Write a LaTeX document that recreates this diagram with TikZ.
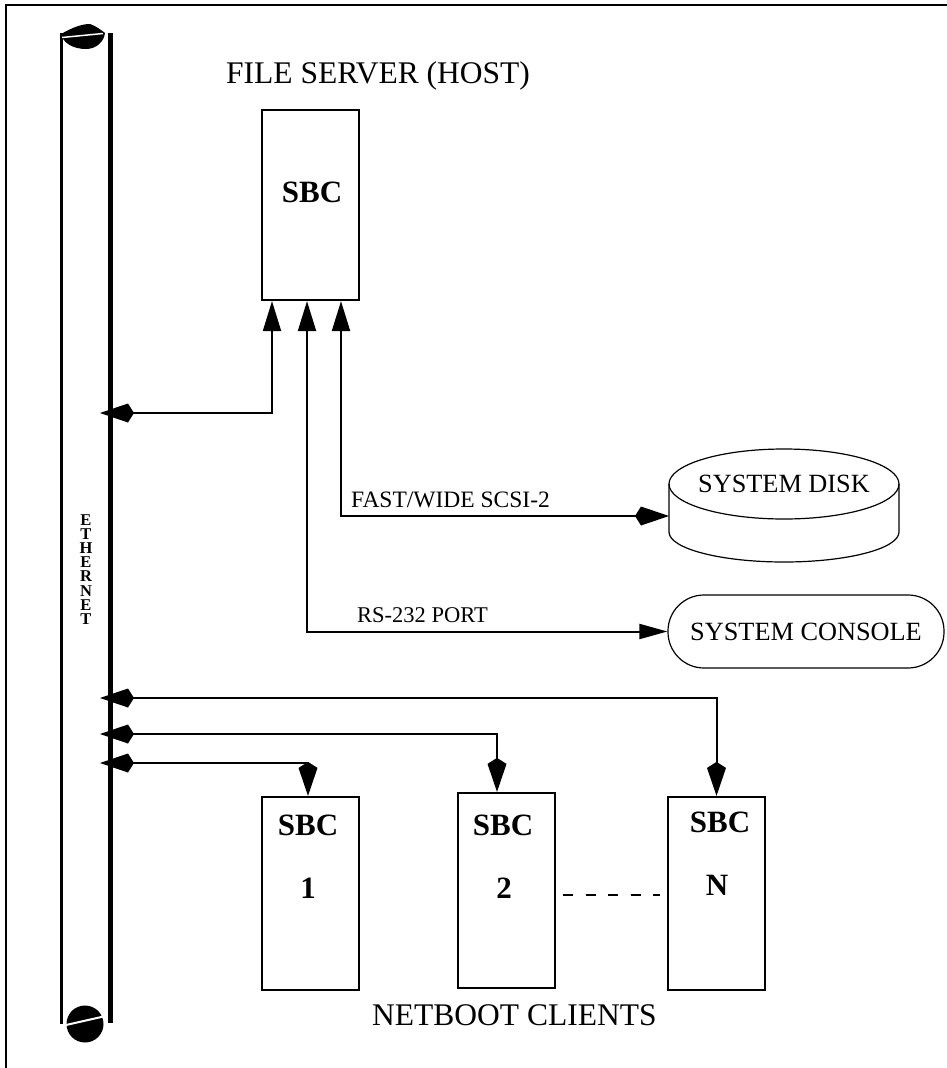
\documentclass[tikz,border=0pt]{standalone}
\usepackage{fontspec}
\setmainfont{Liberation Serif}
\usetikzlibrary{arrows.meta}
\tikzset{
  conn/.style={line width=2pt},
  sbcbox/.style={draw, line width=2.2pt, inner sep=0pt, minimum width=97pt},
  outline/.style={line width=1.2pt},
  boldlbl/.style={inner sep=0pt, anchor=base, font=\bfseries\fontsize{31}{34}\selectfont},
  biglbl/.style={inner sep=0pt, font=\fontsize{31.5}{34}\selectfont},
  midlbl/.style={inner sep=0pt, font=\fontsize{26.3}{30}\selectfont},
  smalllbl/.style={inner sep=0pt, anchor=base west, font=\fontsize{23.5}{26}\selectfont},
  ethletter/.style={inner sep=0pt, font=\bfseries\fontsize{16.5}{17}\selectfont},
  tri/.tip={Triangle[length=30pt,width=18pt]},
  trismall/.tip={Triangle[length=28pt,width=15pt]},
  kitetip/.tip={Kite[length=34pt,width=19pt,inset=6pt]},
}
\begin{document}
\begin{tikzpicture}[x=1pt,y=-1pt]
\useasboundingbox[fill=white] (0,0) rectangle (947,1068);

% page frame (top and left)
\draw[line width=2pt] (6,1068) -- (6,5) -- (947,5);

% Ethernet bus
\draw[line width=3.5pt] (61.5,33) -- (61.5,1024);
\draw[line width=5pt] (110,33) -- (110,1023);
\fill (61,34) .. controls (70,29) and (80,24) .. (90,24)
  .. controls (96,26) and (101,30) .. (105,33)
  .. controls (104,42) and (96,49) .. (86,49)
  .. controls (73,49) and (63,43) .. (61,34) -- cycle;
\draw[white, line width=1.5pt] (62,37.5) -- (103,33.5);
\fill (85,1024) circle[radius=18.5pt];
\draw[white, line width=2pt] (66,1025) -- (103.5,1016.5);
\foreach \l [count=\i from 0] in {E,T,H,E,R,N,E,T}
  \node[ethletter] (eth\i) at (86,{520+14.14*\i}) {\l};

% file server
\node[biglbl, anchor=base west] (title) at (226,83) {FILE SERVER (HOST)};
\node[sbcbox, minimum height=190pt] (srv) at (310.5,205) {};
\node[boldlbl] (srvlbl) at (312,202) {SBC};

% system disk
\draw[outline] (784,484) ellipse[x radius=115pt, y radius=35pt];
\draw[outline] (669,484) -- (669,532) arc[start angle=180, end angle=360, x radius=115pt, y radius=30pt] -- (899,484);
\node[midlbl, anchor=base] (disk) at (784,492) {SYSTEM DISK};
\coordinate (diskL) at (669,516);

% system console
\node[draw, outline, rounded corners=36pt, minimum width=276pt, minimum height=73pt, midlbl] (con) at (806,631.5) {SYSTEM CONSOLE};

% clients
\node[sbcbox, minimum height=193pt] (c1) at (310.5,893.5) {};
\node[sbcbox, minimum height=195pt] (c2) at (506.5,890.5) {};
\node[sbcbox, minimum height=193pt] (cN) at (716.5,893.5) {};
\node[boldlbl] (c1a) at (308,835) {SBC};
\node[boldlbl] (c1b) at (308,898) {1};
\node[boldlbl] (c2a) at (503,835) {SBC};
\node[boldlbl] (c2b) at (504,898) {2};
\node[boldlbl] (cNa) at (720,832) {SBC};
\node[boldlbl] (cNb) at (717,895) {N};
\coordinate (d1) at (563,895);
\coordinate (d2) at (660,895);
\draw[line width=1.8pt, dash pattern=on 10pt off 12.5pt] (d1) -- (d2);
\node[biglbl, anchor=base west] (net) at (372,1025) {NETBOOT CLIENTS};

% ethernet tap points
\coordinate (e0) at (100,413);
\coordinate (eN) at (100,698);
\coordinate (e2) at (100,734);
\coordinate (e1) at (100,763);

% connectors
\draw[conn, {kitetip}-{tri}] (e0) -| ([xshift=-38.5pt]srv.south);
\draw[conn, {tri}-{kitetip}] ([xshift=30.5pt]srv.south) |- (diskL);
\draw[conn, {tri}-{trismall}] ([xshift=-3.5pt]srv.south) |- (con.west);
\node[smalllbl] (fastlbl) at (351,507) {FAST/WIDE SCSI-2};
\node[smalllbl, font=\fontsize{22.5}{26}\selectfont] (rslbl) at (357,622) {RS-232 PORT};

\draw[conn, {kitetip}-{kitetip}] (eN) -| (cN.north);
\draw[conn, {kitetip}-{kitetip}] (e2) -| ([xshift=-9.5pt]c2.north);
\draw[conn, {kitetip}-{kitetip}] (e1) -| ([xshift=-2.5pt]c1.north);
\end{tikzpicture}
\end{document}
